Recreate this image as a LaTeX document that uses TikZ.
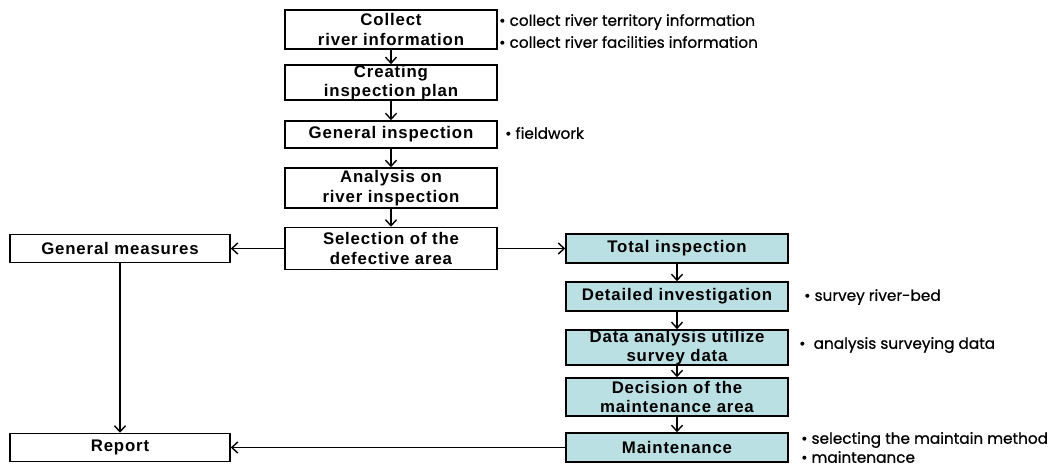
\documentclass[tikz,border=0pt]{standalone}
\usepackage{fontspec}
\setmainfont{Liberation Sans}
\newfontfamily\boxfont[LetterSpace=5]{Liberation Sans}
\newfontfamily\notefont[FakeBold=0.7]{Poppins}
\usetikzlibrary{arrows.meta}
\definecolor{stepfill}{RGB}{187,224,227}

\begin{document}
\begin{tikzpicture}[x=1pt,y=-1pt,
  box/.style={draw,line width=1.5pt,minimum height=28pt,inner xsep=1pt,inner ysep=0pt,
    align=center,font=\boxfont\bfseries\fontsize{16.8}{19.5}\selectfont},
  midbox/.style={box,minimum width=212pt},
  sidebox/.style={box,minimum width=220pt},
  fillbox/.style={box,fill=stepfill,minimum width=222pt},
  note/.style={anchor=west,inner sep=0pt,font=\notefont\fontsize{15.3}{18}\selectfont},
  arr/.style={line width=1.4pt,-{Straight Barb[length=6pt,width=11pt]}}]
  \useasboundingbox (0,0) rectangle (1056,468);

  % main column
  \node[midbox,minimum height=39pt] (collect) at (391,29.5) {Collect\\river information};
  \node[midbox,minimum height=35pt] (plan) at (391,82.5) {Creating\\inspection plan};
  \node[midbox,minimum height=27pt] (general) at (391,134.5) {General inspection};
  \node[midbox,minimum height=40pt] (analysis) at (391,188) {Analysis on\\river inspection};
  \node[midbox,minimum height=42pt] (selection) at (391,248.5) {Selection of the\\defective area};

  % left column
  \node[sidebox] (measures) at (120,248.5) {General measures};
  \node[sidebox] (report) at (120,447.5) {Report};

  % right column
  \node[fillbox,minimum height=29pt] (total) at (677,248.5) {Total inspection};
  \node[fillbox,minimum height=29pt] (detailed) at (677,296.5) {Detailed investigation};
  \node[fillbox,minimum height=35pt] (data) at (677,347.5) {Data analysis utilize\\survey data};
  \node[fillbox,minimum height=38pt] (decision) at (677,397) {Decision of the\\maintenance area};
  \node[fillbox,minimum height=29pt] (maint) at (677,447.5) {Maintenance};

  % notes
  \node[note] (n1) at (499,22) {• collect river territory information};
  \node[note] (n2) at (499,42) {• collect river facilities information};
  \node[note] (n3) at (505,133) {• fieldwork};
  \node[note] (n4) at (804,297) {• survey river-bed};
  \node[note] (n5) at (799,345) {•\ \ analysis surveying data};
  \node[note] (n6) at (801,440) {• selecting the maintain method};
  \node[note] (n7) at (801,457) {• maintenance};

  \foreach \a/\b in {collect/plan,plan/general,general/analysis,analysis/selection,
      total/detailed,detailed/data,data/decision,decision/maint,measures/report}
    \draw[arr] (\a) -- (\b);
  \draw[arr] (selection) -- (measures);
  \draw[arr] (selection) -- (total);
  \draw[arr] (maint) -- (report);
\end{tikzpicture}
\end{document}
